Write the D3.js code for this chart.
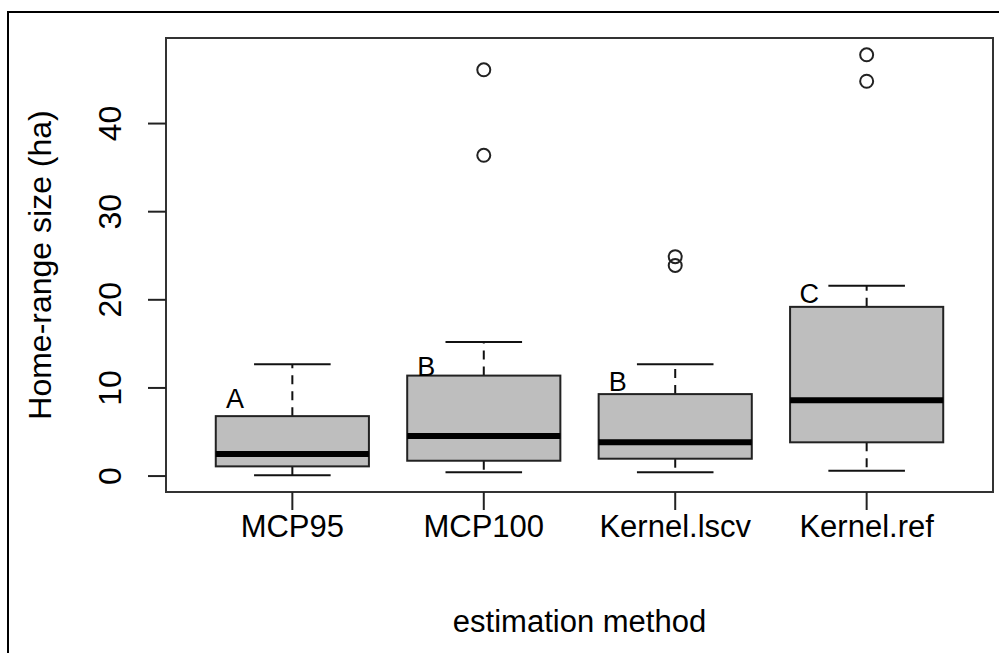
<!DOCTYPE html>
<html>
<head>
<meta charset="utf-8">
<script src="https://cdn.jsdelivr.net/npm/d3@7"></script>
<style>
  body { margin: 0; background: #fff; }
  text { font-family: "Liberation Sans", Arial, sans-serif; fill: #000; }
</style>
</head>
<body>
<svg width="999" height="653"></svg>
<script>
// box statistics (ha)
var methods = ["MCP95", "MCP100", "Kernel.lscv", "Kernel.ref"];
var lowWhisker = [0.1, 0.42, 0.42, 0.6];
var q1 = [1.1, 1.74, 1.97, 3.83];
var median = [2.5, 4.55, 3.83, 8.6];
var q3 = [6.8, 11.4, 9.3, 19.2];
var highWhisker = [12.7, 15.2, 12.7, 21.6];
var outliers = [[], [36.4, 46.1], [23.9, 24.9], [44.8, 47.8]];
var groupLetters = ["A", "B", "B", "C"];
var letterY = [8.7, 12.4, 10.7, 20.7];
var yTicks = [0, 10, 20, 30, 40];

var plot = { left: 166, top: 38, right: 993, bottom: 492 };

var svg = d3.select("svg");

// outer frame (right / bottom edges fall outside the image)
svg.append("rect")
    .attr("x", 8).attr("y", 12)
    .attr("width", 1100).attr("height", 800)
    .attr("fill", "none").attr("stroke", "#000").attr("stroke-width", 2);

// R style ranges: x from 0.5..4.5 padded 4%, y from data range padded 4%
var x = d3.scaleLinear().domain([0.34, 4.66]).range([plot.left, plot.right]);

var allVals = lowWhisker.concat(highWhisker, d3.merge(outliers));
var lo = d3.min(allVals), hi = d3.max(allVals);
var pad = (hi - lo) * 0.04;
var y = d3.scaleLinear().domain([lo - pad, hi + pad]).range([plot.bottom, plot.top]);

var boxes = methods.map(function (m, i) {
    return { name: m, i: i + 1, lw: lowWhisker[i], q1: q1[i], med: median[i],
             q3: q3[i], hw: highWhisker[i], out: outliers[i], letter: groupLetters[i], ly: letterY[i] };
});

var g = svg.append("g");

boxes.forEach(function (d) {
    var cx = x(d.i);
    var half = x(d.i + 0.4) - cx;
    var cap = x(d.i + 0.2) - cx;

    // whiskers
    g.append("line").attr("x1", cx).attr("x2", cx).attr("y1", y(d.q3)).attr("y2", y(d.hw))
        .attr("stroke", "#111").attr("stroke-width", 2).attr("stroke-dasharray", "9,7");
    g.append("line").attr("x1", cx).attr("x2", cx).attr("y1", y(d.q1)).attr("y2", y(d.lw))
        .attr("stroke", "#111").attr("stroke-width", 2).attr("stroke-dasharray", "9,7");
    g.append("line").attr("x1", cx - cap).attr("x2", cx + cap).attr("y1", y(d.hw)).attr("y2", y(d.hw))
        .attr("stroke", "#111").attr("stroke-width", 2);
    g.append("line").attr("x1", cx - cap).attr("x2", cx + cap).attr("y1", y(d.lw)).attr("y2", y(d.lw))
        .attr("stroke", "#111").attr("stroke-width", 2);

    // box
    g.append("rect")
        .attr("x", cx - half).attr("y", y(d.q3))
        .attr("width", half * 2).attr("height", y(d.q1) - y(d.q3))
        .attr("fill", "#bebebe").attr("stroke", "#222").attr("stroke-width", 2);

    // median
    g.append("line").attr("x1", cx - half).attr("x2", cx + half).attr("y1", y(d.med)).attr("y2", y(d.med))
        .attr("stroke", "#000").attr("stroke-width", 6);

    // outliers
    g.selectAll(null).data(d.out).enter().append("circle")
        .attr("cx", cx).attr("cy", function (v) { return y(v); })
        .attr("r", 6.5).attr("fill", "none").attr("stroke", "#222").attr("stroke-width", 2);

    // significance letters
    g.append("text")
        .attr("x", x(d.i - 0.3)).attr("y", y(d.ly))
        .attr("text-anchor", "middle").attr("dominant-baseline", "central")
        .attr("font-size", 27).text(d.letter);
});

// plot frame
svg.append("rect")
    .attr("x", plot.left).attr("y", plot.top)
    .attr("width", plot.right - plot.left).attr("height", plot.bottom - plot.top)
    .attr("fill", "none").attr("stroke", "#333").attr("stroke-width", 2);

// y axis
var yAxis = svg.append("g");
yAxis.selectAll("line").data(yTicks).enter().append("line")
    .attr("x1", plot.left - 18).attr("x2", plot.left)
    .attr("y1", function (v) { return y(v); }).attr("y2", function (v) { return y(v); })
    .attr("stroke", "#222").attr("stroke-width", 2);
yAxis.selectAll("text").data(yTicks).enter().append("text")
    .attr("transform", function (v) { return "translate(121," + y(v) + ") rotate(-90)"; })
    .attr("text-anchor", "middle").attr("font-size", 32)
    .text(function (v) { return v; });

// x axis
var xAxis = svg.append("g");
xAxis.selectAll("line").data(boxes).enter().append("line")
    .attr("x1", function (d) { return x(d.i); }).attr("x2", function (d) { return x(d.i); })
    .attr("y1", plot.bottom).attr("y2", plot.bottom + 18)
    .attr("stroke", "#222").attr("stroke-width", 2);
xAxis.selectAll("text").data(boxes).enter().append("text")
    .attr("x", function (d) { return x(d.i); }).attr("y", 537)
    .attr("text-anchor", "middle").attr("font-size", 31)
    .text(function (d) { return d.name; });

// axis titles
svg.append("text")
    .attr("x", (plot.left + plot.right) / 2).attr("y", 632)
    .attr("text-anchor", "middle").attr("font-size", 31)
    .text("estimation method");
svg.append("text")
    .attr("transform", "translate(51," + (plot.top + plot.bottom) / 2 + ") rotate(-90)")
    .attr("text-anchor", "middle").attr("font-size", 32)
    .text("Home-range size (ha)");
</script>
</body>
</html>
